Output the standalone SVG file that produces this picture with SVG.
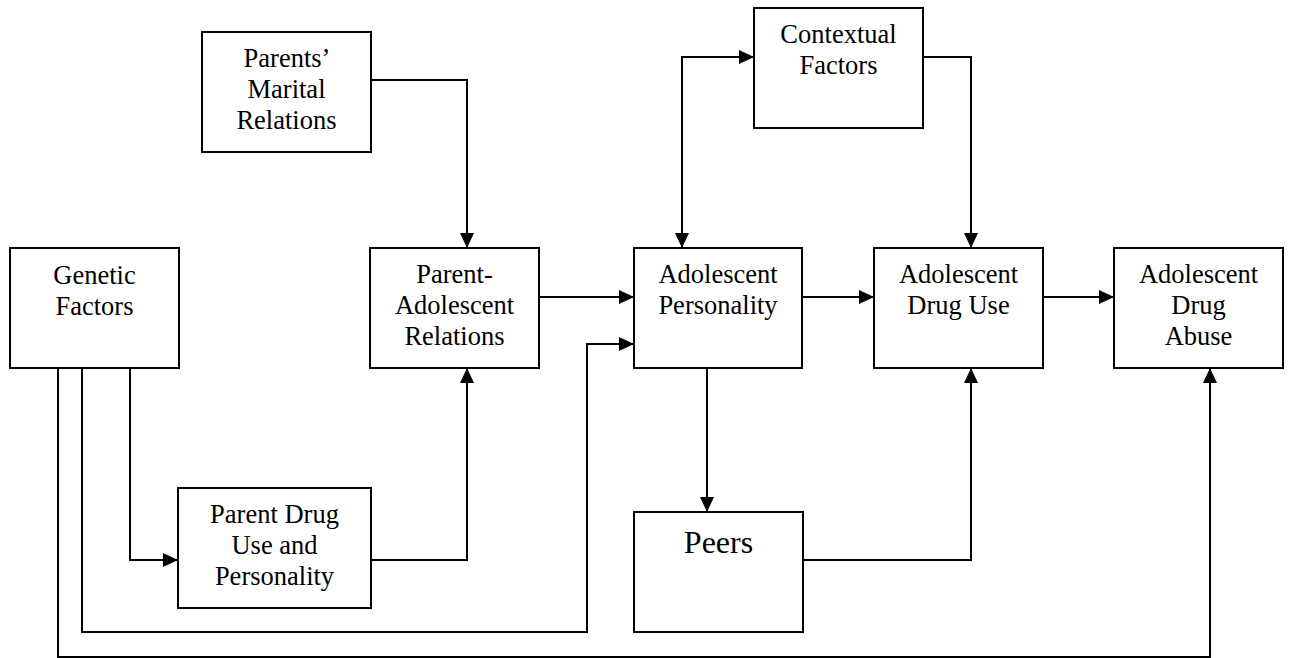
<svg xmlns="http://www.w3.org/2000/svg" width="1290" height="658" viewBox="0 0 1290 658">
  <defs>
    <marker id="arrow" markerUnits="userSpaceOnUse" markerWidth="15" markerHeight="14" refX="15" refY="7" orient="auto-start-reverse" viewBox="0 0 15 14">
      <path d="M0,0 L15,7 L0,14 z" fill="#000"/>
    </marker>
    <style>
      .box { fill: #fff; stroke: #000; stroke-width: 2; }
      .label { font-family: "Liberation Serif", "Times New Roman", serif; font-size: 26.5px; fill: #000; text-anchor: middle; }
      .big { font-size: 32px; }
      .wire { fill: none; stroke: #000; stroke-width: 2; }
      .arr { marker-end: url(#arrow); }
    </style>
  </defs>
  <rect width="1290" height="658" fill="#fff"/>

  <!-- connectors -->
  <g id="connectors">
    <!-- marital relations -> parent-adolescent relations -->
    <path class="wire arr" d="M371,80 H467 V248"/>
    <!-- parent-adolescent relations -> adolescent personality -->
    <path class="wire arr" d="M539,297 H634"/>
    <!-- adolescent personality <-> contextual factors -->
    <path class="wire arr" d="M682,248 V57 H754" style="marker-start:url(#arrow)"/>
    <!-- contextual factors -> drug use -->
    <path class="wire arr" d="M923,57 H971 V248"/>
    <!-- personality -> drug use -->
    <path class="wire arr" d="M802,297 H874"/>
    <!-- drug use -> drug abuse -->
    <path class="wire arr" d="M1043,297 H1114"/>
    <!-- personality -> peers -->
    <path class="wire arr" d="M707,368 V512"/>
    <!-- peers -> drug use -->
    <path class="wire arr" d="M803,560 H971 V368"/>
    <!-- parent drug use -> parent-adolescent relations -->
    <path class="wire arr" d="M371,560 H467 V368"/>
    <!-- genetic factors -> parent drug use -->
    <path class="wire arr" d="M130,368 V560 H178"/>
    <!-- genetic factors -> personality -->
    <path class="wire arr" d="M82,368 V632 H587 V344 H634"/>
    <!-- genetic factors -> drug abuse -->
    <path class="wire arr" d="M58,368 V657 H1210 V368"/>
  </g>

  <g id="genetic">
    <rect class="box" x="10" y="248" width="169" height="120"/>
    <text class="label" x="94.5" y="284">Genetic</text>
    <text class="label" x="94.5" y="315">Factors</text>
  </g>

  <g id="marital">
    <rect class="box" x="202" y="32" width="169" height="120"/>
    <text class="label" x="287" y="67">Parents’</text>
    <text class="label" x="286.5" y="98">Marital</text>
    <text class="label" x="286.5" y="129">Relations</text>
  </g>

  <g id="parent-adolescent">
    <rect class="box" x="370" y="248" width="169" height="120"/>
    <text class="label" x="454.5" y="283">Parent-</text>
    <text class="label" x="454.5" y="314">Adolescent</text>
    <text class="label" x="454.5" y="345">Relations</text>
  </g>

  <g id="parent-drug">
    <rect class="box" x="178" y="488" width="193" height="120"/>
    <text class="label" x="274.5" y="523">Parent Drug</text>
    <text class="label" x="274.5" y="554">Use and</text>
    <text class="label" x="274.5" y="585">Personality</text>
  </g>

  <g id="personality">
    <rect class="box" x="634" y="248" width="168" height="120"/>
    <text class="label" x="718" y="283">Adolescent</text>
    <text class="label" x="718" y="314">Personality</text>
  </g>

  <g id="contextual">
    <rect class="box" x="754" y="8" width="169" height="120"/>
    <text class="label" x="838.5" y="43">Contextual</text>
    <text class="label" x="838.5" y="74">Factors</text>
  </g>

  <g id="peers">
    <rect class="box" x="634" y="512" width="169" height="120"/>
    <text class="label big" x="718.5" y="553">Peers</text>
  </g>

  <g id="drug-use">
    <rect class="box" x="874" y="248" width="169" height="120"/>
    <text class="label" x="958.5" y="283">Adolescent</text>
    <text class="label" x="958.5" y="314">Drug Use</text>
  </g>

  <g id="drug-abuse">
    <rect class="box" x="1114" y="248" width="169" height="120"/>
    <text class="label" x="1198.5" y="283">Adolescent</text>
    <text class="label" x="1198.5" y="314">Drug</text>
    <text class="label" x="1198.5" y="345">Abuse</text>
  </g>
</svg>
